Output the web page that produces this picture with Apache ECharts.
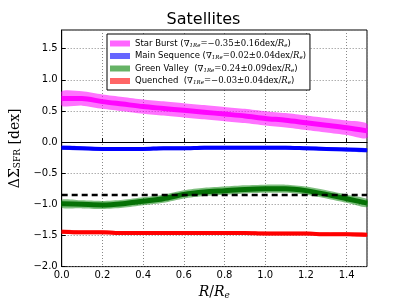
<!DOCTYPE html>
<html><head><meta charset="utf-8">
<script src="https://cdn.jsdelivr.net/npm/echarts@6/dist/echarts.min.js"></script>
<style>html,body{margin:0;padding:0;background:#fff}#c{width:407px;height:305px}</style>
</head><body><div id="c"></div>
<script>
const radius = [0.0,0.1,0.2,0.3,0.4,0.5,0.6,0.7,0.8,0.9,1.0,1.1,1.2,1.3,1.4,1.5];
const starBurst = [0.70,0.70,0.65,0.61,0.57,0.54,0.51,0.48,0.45,0.42,0.38,0.35,0.31,0.27,0.23,0.18];
const starBurstErr = 0.115;
const mainSeq = [-0.09,-0.10,-0.11,-0.11,-0.11,-0.10,-0.10,-0.09,-0.09,-0.09,-0.09,-0.09,-0.10,-0.11,-0.12,-0.13];
const mainSeqErr = 0.03;
const greenValley = [-0.99,-1.00,-1.01,-0.99,-0.95,-0.91,-0.84,-0.80,-0.78,-0.76,-0.75,-0.75,-0.78,-0.84,-0.91,-0.98];
const greenValleyErr = 0.065;
const quenched = [-1.44,-1.45,-1.45,-1.46,-1.46,-1.46,-1.46,-1.46,-1.46,-1.46,-1.47,-1.47,-1.47,-1.48,-1.48,-1.49];
const quenchedErr = 0.03;
const refLevel = -0.85;
const names = ['Star Burst','Main Sequence','Green Valley','Quenched'];
const gradients = [['−','0.35','0.16'],['','0.02','0.04'],['','0.24','0.09'],['−','0.03','0.04']];

const tickFmt = v => (v<0?'−':'') + Math.abs(v).toFixed(1);

function bandSeries(name, vals, err, bandColor, lineColor, lineW, legendColor, key){
  const c = radius.map((x,i)=>[x, vals[i]]);
  return [
    {type:'custom', name:name, data:[[radius[0], vals[0]]], z:2, clip:true,
     itemStyle:{color:legendColor},
     renderItem:function(params, api){
       const up = radius.map((x,i)=>api.coord([x, vals[i]+err]));
       const dn = radius.map((x,i)=>api.coord([x, vals[i]-err])).reverse();
       return {type:'group', children:[
         {type:'polyline', shape:{points:up, smooth:0.3}, style:{stroke:'none', fill:null}},
         {type:'polygon', shape:{points:up.concat(dn), smooth:0.25}, style:{fill:bandColor, stroke:null}}
       ]};
     }},
    {type:'line', name:key+'_c', data:c, symbol:'none', smooth:0.3,
     lineStyle:{color:lineColor, width:lineW}, z:3}
  ];
}

const series = [].concat(
  bandSeries(names[0], starBurst, starBurstErr, 'rgba(255,0,255,0.55)', 'rgba(255,0,255,0.95)', 5, '#ff66ff', 'sb'),
  bandSeries(names[1], mainSeq, mainSeqErr, 'rgba(0,0,255,0.5)', '#0000ff', 4, '#6666ff', 'ms'),
  bandSeries(names[2], greenValley, greenValleyErr, 'rgba(0,128,0,0.5)', 'rgba(0,110,0,0.95)', 5, '#66b366', 'gv'),
  bandSeries(names[3], quenched, quenchedErr, 'rgba(255,0,0,0.5)', '#ff0000', 4, '#ff6666', 'qu'),
  [{type:'line', name:'ref', data:[[0,refLevel],[1.5,refLevel]], symbol:'none',
    lineStyle:{color:'#000', width:2.5, type:[6,4]}, z:5}]
);

const chart = echarts.init(document.getElementById('c'), null, {renderer:'canvas'});
chart.setOption({
  animation:false,
  backgroundColor:'#fff',
  title:{text:'Satellites', left:'center', top:7,
    textStyle:{fontFamily:'DejaVu Sans', fontSize:16, fontWeight:'normal', color:'#000'}},
  grid:{left:51, right:40, top:30, bottom:31, show:true, borderColor:'#000', borderWidth:1},
  xAxis:{type:'value', min:0, max:1.5, interval:0.2,
    name:'{i|R}{n|/}{i|R}{s|e}', nameLocation:'middle', nameGap:18,
    nameTextStyle:{rich:{
      i:{fontFamily:'DejaVu Serif', fontStyle:'italic', fontSize:14, color:'#000'},
      n:{fontFamily:'DejaVu Serif', fontSize:14, color:'#000'},
      s:{fontFamily:'DejaVu Serif', fontStyle:'italic', fontSize:9, color:'#000', padding:[6,0,0,0]}}},
    axisLine:{lineStyle:{color:'#000'}},
    axisTick:{inside:true, length:4, lineStyle:{color:'#000'}},
    axisLabel:{color:'#000', fontFamily:'DejaVu Sans', fontSize:10, margin:4, showMaxLabel:false, formatter:tickFmt},
    splitLine:{show:true, lineStyle:{color:'#888', type:[1,2], width:1}}},
  yAxis:{type:'value', min:-2, max:1.8, interval:0.5,
    name:'{n|ΔΣ}{s|SFR}{n| [dex]}', nameLocation:'middle', nameGap:26, nameRotate:90,
    nameTextStyle:{rich:{
      n:{fontFamily:'DejaVu Serif', fontSize:14, color:'#000'},
      s:{fontFamily:'DejaVu Serif', fontSize:9, color:'#000', padding:[6,0,0,0]}}},
    axisLine:{lineStyle:{color:'#000'}},
    axisTick:{inside:true, length:4, lineStyle:{color:'#000'}},
    axisLabel:{color:'#000', fontFamily:'DejaVu Sans', fontSize:10, margin:4, showMaxLabel:false, formatter:tickFmt},
    splitLine:{show:true, lineStyle:{color:'#888', type:[1,2], width:1}}},
  legend:{data:names, orient:'vertical', left:107, top:34, itemWidth:20, itemHeight:6, itemGap:3,
    backgroundColor:'#fff', borderColor:'#000', borderWidth:1, padding:[5,4,4,3], borderRadius:0,
    icon:'rect',
    formatter:function(name){
      const i = names.indexOf(name);
      const g = gradients[i];
      const sp = (i>=2) ? '  ' : ' ';
      return '{t|'+name+sp+'(}{m|∇}{sub|1Re}{m|='+g[0]+g[1]+'±'+g[2]+'dex/}{mi|R}{sub|e}{t|)}';
    },
    textStyle:{rich:{
      t:{fontFamily:'DejaVu Sans', fontSize:8.5, color:'#000'},
      m:{fontFamily:'DejaVu Serif', fontSize:8.5, color:'#000'},
      mi:{fontFamily:'DejaVu Serif', fontStyle:'italic', fontSize:8.5, color:'#000'},
      sub:{fontFamily:'DejaVu Serif', fontStyle:'italic', fontSize:5.5, color:'#000', padding:[4,0,0,0]}}}
  },
  series:series
});
</script></body></html>
